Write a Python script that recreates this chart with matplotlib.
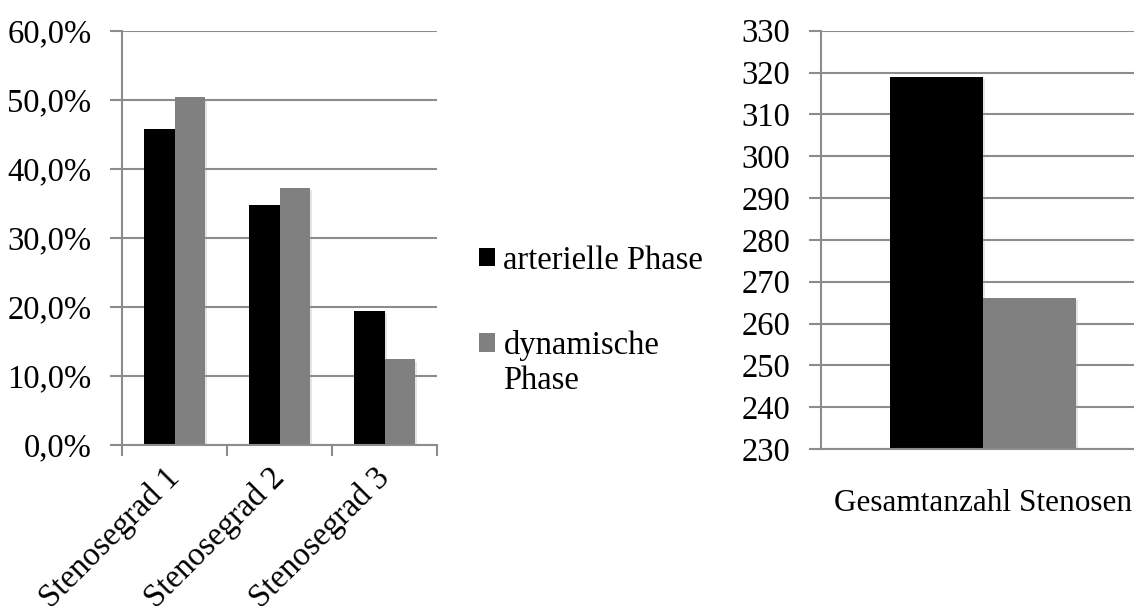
import matplotlib
matplotlib.use("Agg")
from matplotlib import pyplot as plt
from matplotlib.ticker import FuncFormatter
from matplotlib.patches import Patch
import matplotlib.patheffects as pe
import numpy as np

plt.rcParams['font.family'] = ['Liberation Serif', 'DejaVu Serif']
plt.rcParams['font.size'] = 23.5

# data
grades = ['Stenosegrad 1', 'Stenosegrad 2', 'Stenosegrad 3']
arterial_pct = [45.8, 34.8, 19.4]
dynamic_pct = [50.4, 37.2, 12.4]
total_label = ['Gesamtanzahl Stenosen']
arterial_total = [319]
dynamic_total = [266]
series_names = ['arterielle Phase', 'dynamische']

black = '#000000'
grey = '#808080'
line_col = '#8c8c8c'
bw = 0.287
shadow = [pe.SimplePatchShadow(offset=(1.5, -1.5), shadow_rgbFace='#999999', alpha=0.25), pe.Normal()]

fig = plt.figure(figsize=(11.34, 6.06), dpi=100)
W, H = 1134, 606

def style(ax):
    ax.set_axisbelow(True)
    ax.yaxis.grid(True, color=line_col, lw=1.5)
    for s in ['top', 'right']:
        ax.spines[s].set_visible(False)
    for s in ['left', 'bottom']:
        ax.spines[s].set_color(line_col)
        ax.spines[s].set_linewidth(1.5)
    ax.tick_params(axis='y', direction='out', length=9, width=1.5, color=line_col, pad=13)

# left chart
ax1 = fig.add_axes([122 / W, 161 / H, 315 / W, 414 / H])
x = np.arange(len(grades))
ax1.bar(x - bw / 2, arterial_pct, bw, color=black, path_effects=shadow)
ax1.bar(x + bw / 2, dynamic_pct, bw, color=grey, path_effects=shadow)
ax1.set_xlim(-0.5, len(grades) - 0.5)
ax1.set_ylim(0, 60)
ax1.set_yticks(np.arange(0, 61, 10))
ax1.yaxis.set_major_formatter(FuncFormatter(lambda v, p: f"{v:.1f}%".replace('.', ',')))
style(ax1)
ax1.set_xticks(np.arange(-0.5, len(grades), 1.0))
ax1.set_xticklabels([])
ax1.tick_params(axis='x', which='major', direction='out', length=8, width=1.5, color=line_col)
ax1.set_xticks(x, minor=True)
ax1.set_xticklabels(grades, minor=True, rotation=45, ha='right', rotation_mode='anchor', va='center')
ax1.tick_params(axis='x', which='minor', length=0, pad=20)

# right chart
ax2 = fig.add_axes([821 / W, 157 / H, 324 / W, 418.3 / H])
x2 = np.arange(len(total_label))
ax2.bar(x2 - bw / 2, arterial_total, bw, color=black, path_effects=shadow)
ax2.bar(x2 + bw / 2, dynamic_total, bw, color=grey, path_effects=shadow)
ax2.set_xlim(-0.5, 0.5)
ax2.set_ylim(230, 330)
ax2.set_yticks(np.arange(230, 331, 10))
style(ax2)
ax2.set_xticks(x2)
ax2.set_xticklabels(total_label, fontsize=22.5)
ax2.tick_params(axis='x', length=0, pad=29)

# legend
handles = [Patch(facecolor=black), Patch(facecolor=grey)]
leg = fig.legend(handles, series_names, loc='upper left', bbox_to_anchor=(479 / W, 1 - 245 / H),
                 frameon=False, handlelength=0.5, handleheight=0.5, handletextpad=0.25,
                 labelspacing=1.68, borderaxespad=0, borderpad=0)
fig.canvas.draw()
bb = leg.get_texts()[1].get_window_extent()
fig.text(bb.x0 / W, (bb.y0 - 4) / H, 'Phase', ha='left', va='top')

fig.savefig('out.png', dpi=100)
